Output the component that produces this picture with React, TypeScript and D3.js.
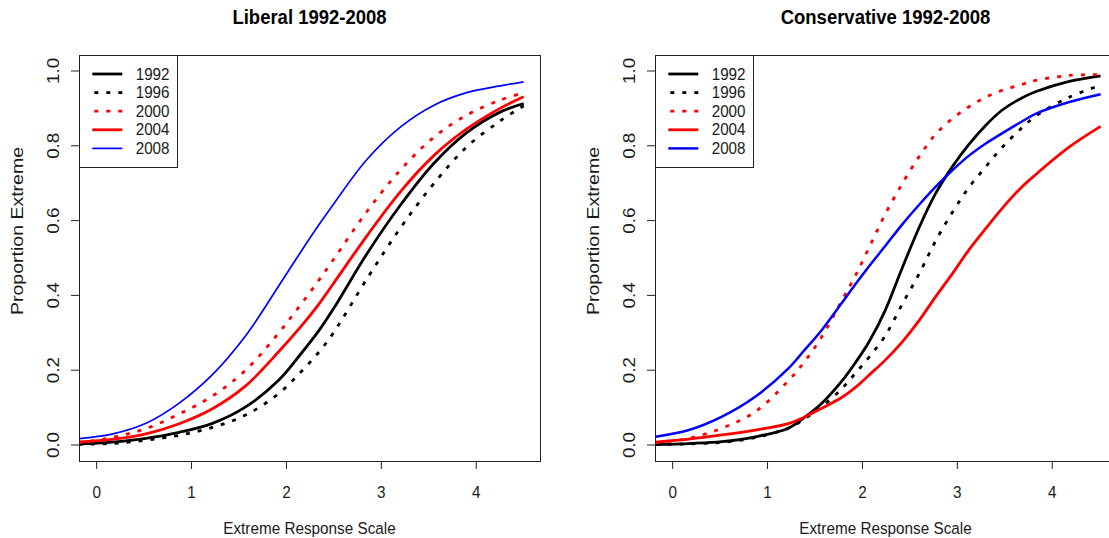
import React from "react";
import * as d3 from "d3";

// Tick values and legend labels
const YEARS = ["1992", "1996", "2000", "2004", "2008"];
const X_TICKS = [0, 1, 2, 3, 4];
const Y_TICKS = [0, 0.2, 0.4, 0.6, 0.8, 1.0];

// Liberal respondents: predicted proportion extreme by response scale
const LIB_X = [-0.19, 0.16, 0.52, 0.87, 1.22, 1.57, 1.92, 2.14, 2.34, 2.49, 2.85, 3.2, 3.55, 3.9, 4.25, 4.5];
const LIB_1992 = [0.003, 0.008, 0.018, 0.034, 0.058, 0.102, 0.174, 0.24, 0.305, 0.362, 0.512, 0.641, 0.752, 0.835, 0.89, 0.913];
const LIB_1996 = [0.002, 0.004, 0.013, 0.026, 0.047, 0.08, 0.138, 0.192, 0.248, 0.298, 0.445, 0.58, 0.698, 0.797, 0.866, 0.907];
const LIB_2000 = [0.006, 0.02, 0.044, 0.083, 0.131, 0.2, 0.3, 0.372, 0.44, 0.494, 0.625, 0.735, 0.822, 0.882, 0.922, 0.942];
const LIB_2004 = [0.008, 0.015, 0.03, 0.057, 0.097, 0.158, 0.25, 0.313, 0.376, 0.43, 0.56, 0.677, 0.773, 0.845, 0.9, 0.931];
const LIB_2008 = [0.017, 0.029, 0.058, 0.112, 0.188, 0.292, 0.426, 0.512, 0.588, 0.642, 0.764, 0.85, 0.908, 0.942, 0.96, 0.971];

// Conservative respondents
const CON_X = [-0.18, 0.17, 0.52, 0.87, 1.22, 1.39, 1.57, 1.78, 1.92, 2.07, 2.24, 2.42, 2.6, 2.77, 2.95, 3.12, 3.3, 3.47, 3.68, 3.83, 4.18, 4.51];
const CON_1992 = [0.001, 0.004, 0.009, 0.022, 0.045, 0.074, 0.111, 0.17, 0.218, 0.276, 0.36, 0.474, 0.583, 0.672, 0.745, 0.803, 0.855, 0.895, 0.928, 0.945, 0.972, 0.987];
const CON_1996 = [0.001, 0.003, 0.007, 0.02, 0.045, 0.07, 0.102, 0.15, 0.19, 0.235, 0.292, 0.377, 0.459, 0.545, 0.623, 0.688, 0.744, 0.795, 0.848, 0.88, 0.93, 0.962];
const CON_2000 = [0.006, 0.018, 0.045, 0.089, 0.172, 0.223, 0.289, 0.385, 0.45, 0.528, 0.617, 0.699, 0.772, 0.831, 0.873, 0.904, 0.93, 0.948, 0.964, 0.975, 0.988, 0.99];
const CON_2004 = [0.008, 0.016, 0.027, 0.04, 0.057, 0.075, 0.098, 0.127, 0.153, 0.187, 0.227, 0.276, 0.334, 0.396, 0.459, 0.521, 0.579, 0.632, 0.69, 0.724, 0.797, 0.852];
const CON_2008 = [0.022, 0.04, 0.076, 0.129, 0.205, 0.254, 0.307, 0.379, 0.428, 0.478, 0.532, 0.59, 0.643, 0.69, 0.735, 0.773, 0.806, 0.833, 0.865, 0.886, 0.917, 0.938];

const W = 1109;
const H = 538;
const FONT = "'Liberation Sans', Arial, Helvetica, sans-serif";
const TEXT = "#1a1a1a";

const PLOT_TOP = 55;
const PLOT_H = 406;
const PLOT_W = 461;
const X_DOMAIN: [number, number] = [-0.186, 4.672];
const Y_DOMAIN: [number, number] = [-0.0427, 1.0427];

type LineStyle = { color: string; dash: string | null; width: number };

function lineStyles(blueWidth: number): LineStyle[] {
  return [
    { color: "#000000", dash: null, width: 2.8 },
    { color: "#000000", dash: "4 8", width: 2.8 },
    { color: "#ff0000", dash: "4 8", width: 2.8 },
    { color: "#ff0000", dash: null, width: 2.8 },
    { color: "#0000ff", dash: null, width: blueWidth },
  ];
}

type PanelProps = {
  id: string;
  left: number;
  title: string;
  xs: number[];
  series: number[][];
  blueWidth: number;
};

function Panel({ id, left, title, xs, series, blueWidth }: PanelProps) {
  const x = d3.scaleLinear().domain(X_DOMAIN).range([left, left + PLOT_W]);
  const y = d3.scaleLinear().domain(Y_DOMAIN).range([PLOT_TOP + PLOT_H, PLOT_TOP]);
  const styles = lineStyles(blueWidth);
  const line = d3
    .line<[number, number]>()
    .x((d) => x(d[0]))
    .y((d) => y(d[1]))
    .curve(d3.curveCatmullRom.alpha(0.5));
  const bottom = PLOT_TOP + PLOT_H;
  const cx = left + PLOT_W / 2;
  const clipId = `clip-${id}`;

  const legendW = 98;
  const legendH = 112;
  const rowY = (i: number) => 74 + i * 18.6;

  return (
    <g>
      <defs>
        <clipPath id={clipId}>
          <rect x={left} y={PLOT_TOP} width={PLOT_W} height={PLOT_H} />
        </clipPath>
      </defs>

      {/* title */}
      <text
        transform={`translate(${cx},24) scale(1,1.12)`}
        textAnchor="middle"
        fontFamily={FONT}
        fontWeight="bold"
        fontSize={18.5}
        fill="#000"
      >
        {title}
      </text>

      {/* curves */}
      <g clipPath={`url(#${clipId})`}>
        {series.map((ys, i) => (
          <path
            key={YEARS[i]}
            d={line(xs.map((xv, j) => [xv, ys[j]] as [number, number])) || ""}
            fill="none"
            stroke={styles[i].color}
            strokeWidth={styles[i].width}
            strokeDasharray={styles[i].dash || undefined}
            strokeLinejoin="round"
          />
        ))}
      </g>

      {/* plot box */}
      <rect
        x={left + 0.5}
        y={PLOT_TOP + 0.5}
        width={PLOT_W}
        height={PLOT_H}
        fill="none"
        stroke="#222"
        strokeWidth={1}
      />

      {/* x axis */}
      {X_TICKS.map((t) => (
        <g key={`xt${t}`}>
          <line x1={x(t)} x2={x(t)} y1={bottom} y2={bottom + 8} stroke="#222" strokeWidth={1} />
          <text
            transform={`translate(${x(t)},497.5) scale(1,1.12)`}
            textAnchor="middle"
            fontFamily={FONT}
            fontSize={15.3}
            fill={TEXT}
          >
            {String(t)}
          </text>
        </g>
      ))}
      <text
        transform={`translate(${cx},534) scale(1,1.12)`}
        textAnchor="middle"
        fontFamily={FONT}
        fontSize={15.3}
        fill={TEXT}
      >
        Extreme Response Scale
      </text>

      {/* y axis */}
      {Y_TICKS.map((t) => (
        <g key={`yt${t}`}>
          <line x1={left - 8} x2={left} y1={y(t)} y2={y(t)} stroke="#222" strokeWidth={1} />
          <text
            transform={`translate(${left - 19.7},${y(t)}) scale(1,1.12) rotate(-90)`}
            textAnchor="middle"
            fontFamily={FONT}
            fontSize={16.8}
            fill={TEXT}
          >
            {t.toFixed(1)}
          </text>
        </g>
      ))}
      <text
        transform={`translate(${left - 55.7},231) scale(1,1.19) rotate(-90)`}
        textAnchor="middle"
        fontFamily={FONT}
        fontSize={16.4}
        fill={TEXT}
      >
        Proportion Extreme
      </text>

      {/* legend */}
      <rect
        x={left + 0.5}
        y={PLOT_TOP + 0.5}
        width={legendW}
        height={legendH}
        fill="#fff"
        stroke="#222"
        strokeWidth={1}
      />
      {YEARS.map((yr, i) => (
        <g key={`lg${yr}`}>
          <line
            x1={left + 13.3}
            x2={left + 43.3}
            y1={rowY(i)}
            y2={rowY(i)}
            stroke={styles[i].color}
            strokeWidth={styles[i].width}
            strokeDasharray={styles[i].dash || undefined}
            strokeDashoffset={styles[i].dash ? -2 : undefined}
          />
          <text
            transform={`translate(${left + 56.7},${rowY(i) + 5.6}) scale(1,1.05)`}
            fontFamily={FONT}
            fontSize={15.2}
            fill={TEXT}
          >
            {yr}
          </text>
        </g>
      ))}
    </g>
  );
}

export default function App() {
  return (
    <svg
      width={W}
      height={H}
      viewBox={`0 0 ${W} ${H}`}
      style={{ position: "absolute", left: 0, top: 0, background: "#fff" }}
    >
      <rect x={0} y={0} width={W} height={H} fill="#fff" />
      <Panel
        id="lib"
        left={79}
        title="Liberal 1992-2008"
        xs={LIB_X}
        series={[LIB_1992, LIB_1996, LIB_2000, LIB_2004, LIB_2008]}
        blueWidth={1.7}
      />
      <Panel
        id="con"
        left={655}
        title="Conservative 1992-2008"
        xs={CON_X}
        series={[CON_1992, CON_1996, CON_2000, CON_2004, CON_2008]}
        blueWidth={2.5}
      />
    </svg>
  );
}
